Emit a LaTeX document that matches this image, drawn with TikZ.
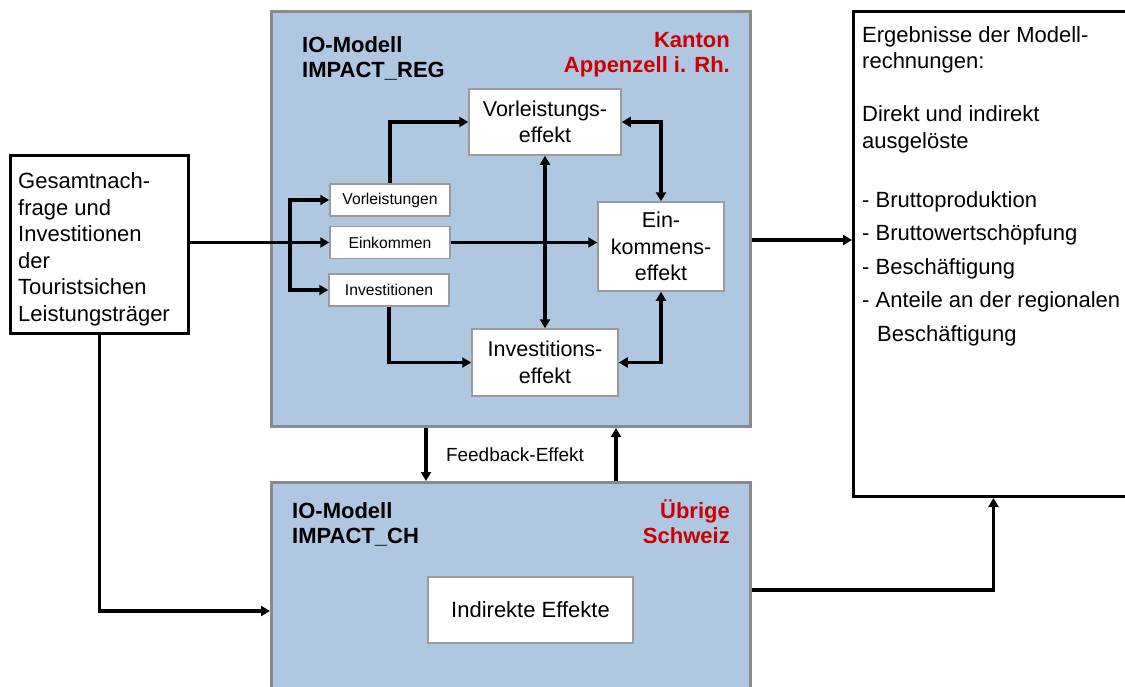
\documentclass[tikz,border=0pt]{standalone}
\usepackage{fontspec}
\setmainfont{Liberation Sans}
\usepackage{xcolor}
\usetikzlibrary{arrows.meta, positioning, calc}

\definecolor{ioblue}{RGB}{176,199,225}
\definecolor{iored}{RGB}{204,0,0}
\definecolor{iogray}{RGB}{138,138,138}
\definecolor{boxgray}{RGB}{155,155,155}

\begin{document}
\begin{tikzpicture}[
    x=1pt, y=-1pt,
    modell/.style={
      rectangle, draw=iogray, line width=3pt,
      fill=ioblue, minimum width=479pt,
      inner sep=0pt, anchor=north west
    },
    box/.style={
      rectangle, draw=black, line width=3pt, fill=white,
      inner sep=0pt, anchor=north west
    },
    boxtext/.style={
      align=left, anchor=base west, inner sep=0pt,
      font=\fontsize{22}{26.5}\selectfont
    },
    effekt/.style={
      rectangle, draw=boxgray, line width=1.5pt, fill=white,
      align=center, inner sep=0pt,
      font=\fontsize{21.5}{26.5}\selectfont
    },
    klein/.style={
      rectangle, draw=boxgray, line width=1.5pt, fill=white,
      minimum width=120pt, minimum height=32pt,
      inner sep=0pt, font=\fontsize{15.7}{18}\selectfont
    },
    titel/.style={
      align=left, anchor=base west, inner sep=0pt,
      font=\bfseries\fontsize{22}{25}\selectfont
    },
    region/.style={
      align=right, anchor=base east, inner sep=0pt, text=iored,
      font=\bfseries\fontsize{22}{24.5}\selectfont
    },
    arr/.style={-{Triangle[length=9pt,width=10pt]}, line width=3.2pt},
    darr/.style={{Triangle[length=9pt,width=10pt]}-{Triangle[length=9pt,width=10pt]}, line width=3.2pt}
  ]
    \useasboundingbox (0,0) rectangle (1125,686);

    % Nachfrage
    \node[box, minimum width=178pt, minimum height=178pt] (gesamt) at (9,154) {};
    \node[boxtext] (gesamttext) at (18,321) {
      Gesamtnach-\\frage und\\Investitionen\\der\\Touristsichen\\Leistungsträger
    };

    % regionales Modell
    \node[modell, minimum height=415pt] (reg) at (270,10) {};
    \node[titel] (regtitel) at (302,77) {IO-Modell\\IMPACT\_REG};
    \node[region] (kanton) at (730,72) {Kanton\\Appenzell i. Rh.};

    \node[klein] (vorl) at (390,200) {Vorleistungen};
    \node[klein] (eink) at (390,242.5) {Einkommen};
    \node[klein] (inv) at (389,290) {Investitionen};

    \node[effekt, minimum width=152pt, minimum height=66pt] (vleff) at (545,122) {Vorleistungs-\\effekt};
    \node[effekt, minimum width=126pt, minimum height=89pt] (eineff) at (661,246.5) {Ein-\\kommens-\\effekt};
    \node[effekt, minimum width=146pt, minimum height=67pt] (inveff) at (545,362.5) {Investitions-\\effekt};

    % Modell Schweiz
    \node[modell, minimum height=257pt] (ch) at (270,481) {};
    \node[titel] (chtitel) at (292,543) {IO-Modell\\IMPACT\_CH};
    \node[region] (uebrige) at (730,543) {Übrige\\Schweiz};
    \node[effekt, minimum width=205pt, minimum height=66pt,
      font=\fontsize{22}{26}\selectfont] (indirekt) at (530.5,610) {Indirekte Effekte};

    % Ergebnisse
    \node[box, minimum width=280pt, minimum height=485pt] (erg) at (852,10) {};
    \node[boxtext] (ergtext) at (862,341) {
      Ergebnisse der Modell-\\rechnungen:\\[26.5pt]
      Direkt und indirekt\\ausgelöste\\[32.5pt]
      - Bruttoproduktion\\[7pt]
      - Bruttowertschöpfung\\[7pt]
      - Beschäftigung\\[7pt]
      - Anteile an der regionalen\\[7pt]
      \hspace*{15pt}Beschäftigung
    };

    \coordinate (split) at (290,242.5);

    \draw[arr] (gesamt.east |- eink.west) -- (eink.west);
    \draw[arr] (split) |- (vorl.west);
    \draw[arr] (split) |- (inv.west);
    \draw[arr] (vorl.north) |- (vleff.west);
    \draw[arr] (inv.south) |- (inveff.west);
    \draw[arr] (eink.east) -- (eink.east -| eineff.west);
    \draw[darr] (vleff.south) -- (inveff.north);
    \draw[darr] (vleff.east) -| (eineff.north);
    \draw[darr] (inveff.east) -| (eineff.south);

    \draw[arr] ([xshift=-85pt]reg.south) -- ([xshift=-85pt]ch.north);
    \draw[arr] ([xshift=105pt]ch.north) -- ([xshift=105pt]reg.south);
    \node[font=\fontsize{19}{22}\selectfont, xshift=4pt] (feedback)
      at ($(reg.south)!0.5!(ch.north)$) {Feedback-Effekt};

    \draw[arr] ([yshift=-21pt]reg.east) -- ([yshift=-21pt]reg.east -| erg.west);
    \draw[arr] ([yshift=21pt]ch.east) -| (erg.south);
    \draw[arr] (gesamt.south) |- (ch.west);
  \end{tikzpicture}
\end{document}
